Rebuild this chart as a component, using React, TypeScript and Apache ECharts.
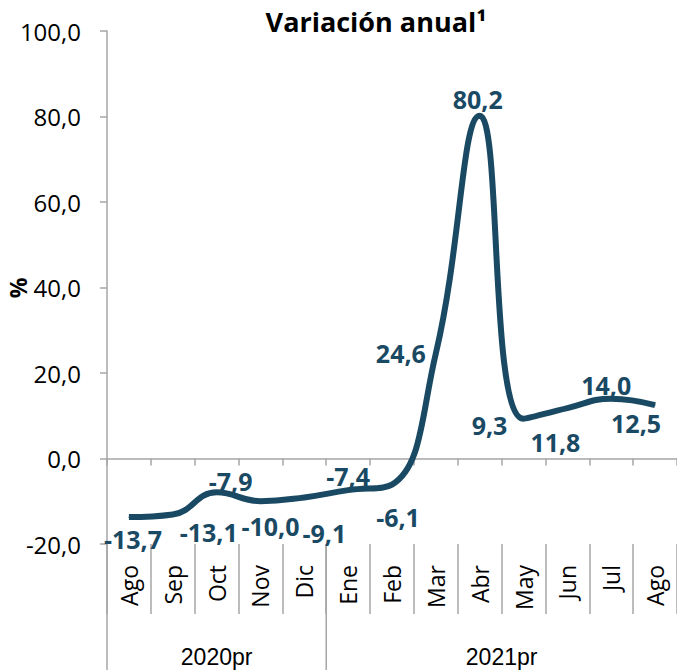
import React, { useEffect, useRef } from "react";
import * as echarts from "echarts";

const categories = ["Ago", "Sep", "Oct", "Nov", "Dic", "Ene", "Feb", "Mar", "Abr", "May", "Jun", "Jul", "Ago"];
const values = [-13.7, -13.1, -7.9, -10.0, -9.1, -7.4, -6.1, 24.6, 80.2, 9.3, 11.8, 14.0, 12.5];
const years = ["2020pr", "2021pr"];
const yearCounts = [5, 8];
const yTicks = { min: -20, max: 100, interval: 20 };
const labelOffsets: [number, number][] = [
  [4, 22], [36, 17], [14, -11], [10, 25], [20, 36], [0, -14], [6, 32],
  [-35, 0], [-2, -17], [-34, 6], [-12, 34], [-5, -14], [-19, 18],
];

const LINE = "#1a4963";
const GRAY = "#a6a6a6";
const FONT = "'Open Sans', 'Noto Sans', sans-serif";
const fmt = (v: number) => v.toFixed(1).replace(".", ",");

export default function App() {
  const ref = useRef<HTMLDivElement>(null);
  useEffect(() => {
    if (!ref.current) return;
    const chart = echarts.init(ref.current, null, { renderer: "svg" });
    const option: any = {
      animation: false,
      backgroundColor: "#fff",
      textStyle: { fontFamily: FONT },
      title: {
        text: "Variación anual¹",
        left: 371,
        textAlign: "center",
        top: 3,
        textStyle: { fontSize: 27, fontWeight: "bold", color: "#000", fontFamily: FONT },
      },
      grid: { left: 107, top: 31, width: 574, bottom: 126, containLabel: false },
      xAxis: [
        {
          type: "category",
          data: categories,
          position: "bottom",
          boundaryGap: true,
          axisLine: { show: false, onZero: false },
          axisTick: { show: true, length: 70, lineStyle: { color: GRAY, width: 1.5 } },
          axisLabel: { rotate: 90, margin: 21, fontSize: 23, color: "#000", fontFamily: FONT, interval: 0 },
          splitLine: { show: false },
        },
        {
          type: "category",
          data: categories,
          position: "bottom",
          boundaryGap: true,
          axisLine: { show: true, onZero: true, lineStyle: { color: GRAY, width: 1.5 } },
          axisTick: { show: true, length: 7, lineStyle: { color: GRAY, width: 1.5 } },
          axisLabel: { show: false },
          splitLine: { show: false },
        },
      ],
      yAxis: {
        type: "value",
        min: yTicks.min,
        max: yTicks.max,
        interval: yTicks.interval,
        axisLine: { show: true, onZero: false, lineStyle: { color: GRAY, width: 1.5 } },
        axisTick: { show: true, length: 7, lineStyle: { color: GRAY, width: 1.5 } },
        axisLabel: { fontSize: 24, color: "#000", fontFamily: FONT, margin: 26, formatter: (v: number) => fmt(v) },
        splitLine: { show: false },
      },
      series: [
        {
          type: "line",
          xAxisIndex: 0,
          smooth: 0.45,
          symbol: "circle",
          symbolSize: 1,
          showSymbol: true,
          itemStyle: { color: LINE },
          lineStyle: { color: LINE, width: 6 },
          data: values.map((v, i) => ({
            value: v,
            label: {
              show: true,
              position: "inside",
              offset: labelOffsets[i],
              formatter: () => fmt(v),
              fontSize: 25,
              fontWeight: "bold",
              color: LINE,
              fontFamily: FONT,
            },
          })),
        },
      ],
    };
    chart.setOption(option);

    const x0 = chart.convertToPixel({ xAxisIndex: 0 }, 0) as number;
    const x1 = chart.convertToPixel({ xAxisIndex: 0 }, 1) as number;
    const step = x1 - x0;
    const yBottom = chart.convertToPixel({ yAxisIndex: 0 }, yTicks.min) as number;
    const graphics: any[] = [];
    let start = 0;
    years.forEach((y, i) => {
      const left = x0 - step / 2 + start * step;
      const right = left + yearCounts[i] * step;
      graphics.push({
        type: "line",
        shape: { x1: left, y1: yBottom, x2: left, y2: 670 },
        style: { stroke: GRAY, lineWidth: 1.5 },
      });
      graphics.push({
        type: "text",
        x: (left + right) / 2,
        y: 657,
        style: { text: y, fontSize: 23, fill: "#000", font: `23px ${FONT}`, align: "center", verticalAlign: "middle" },
      });
      start += yearCounts[i];
    });
    graphics.push({
      type: "text",
      x: 18,
      y: 288,
      rotation: Math.PI / 2,
      style: { text: "%", font: `bold 23px ${FONT}`, fill: "#000", align: "center", verticalAlign: "middle" },
    });
    chart.setOption({ graphic: graphics });

    return () => chart.dispose();
  }, []);
  return <div ref={ref} style={{ width: 677, height: 670, position: "absolute", left: 0, top: 0 }} />;
}
